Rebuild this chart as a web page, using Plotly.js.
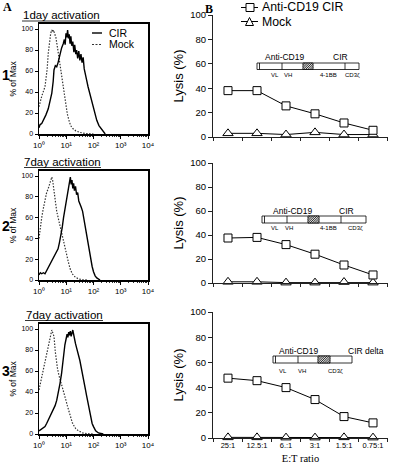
<!DOCTYPE html>
<html><head><meta charset="utf-8">
<script src="https://cdn.plot.ly/plotly-3.0.1.min.js"></script>
<style>html,body{margin:0;padding:0;background:#fff}#chart{width:400px;height:470px}</style>
</head><body><div id="chart"></div>
<script>
// ---------- Data ----------
const ratios = ['25:1', '12.5:1', '6.:1', '3:1', '1.5:1', '0.75:1'];
const cirLysis1 = [38, 38, 25.5, 19, 11.5, 5.5];
const mockLysis1 = [3, 3, 2, 3.8, 2, 2];
const cirLysis2 = [37.5, 38, 32, 24, 15, 6.7];
const mockLysis2 = [1, 1, 0.3, 0.3, 0.8, 0.3];
const cirLysis3 = [47.5, 45.5, 40, 30.5, 17, 12];
const mockLysis3 = [0.5, 0.5, 0.3, 0.3, 0.5, 0.3];

// Histograms: log10 of fluorescence intensity and % of max
const hist1CirLog = [0.0,0.04,0.1,0.16,0.25,0.34,0.4,0.47,0.52,0.55,0.6,0.65,0.7,0.77,0.83,0.89,0.93,0.96,0.99,1.02,1.05,1.08,1.11,1.14,1.17,1.2,1.24,1.28,1.31,1.35,1.38,1.42,1.46,1.5,1.54,1.58,1.62,1.66,1.7,1.75,1.8,1.85,1.9,1.95,2.0,2.06,2.12,2.2,2.3,2.43];
const hist1CirVal = [6,9,10,13,18,24,30,39,50,61,65,64,68,77,82,86,90,85,96,92,99,91,95,86,93,84,88,78,85,76,80,72,79,70,76,68,73,62,58,51,45,40,34,28,23,18,13,8,4,0];
const hist1MockLog = [0,0.1,0.22,0.3,0.34,0.4,0.43,0.47,0.5,0.53,0.57,0.62,0.68,0.74,0.8,0.86,0.92,0.98,1.04,1.1,1.16,1.25,1.35,1.5,1.7,2.0];
const hist1MockVal = [26,36,45,62,77,90,96,99,97,99,96,92,82,72,60,50,38,28,19,13,8,5,3,1.5,0.5,0];

const hist2CirLog = [0,0.05,0.1,0.16,0.22,0.28,0.34,0.4,0.46,0.53,0.6,0.65,0.7,0.75,0.8,0.85,0.9,0.95,1.0,1.04,1.08,1.12,1.15,1.18,1.21,1.24,1.27,1.3,1.34,1.38,1.42,1.46,1.5,1.55,1.6,1.65,1.7,1.75,1.8,1.85,1.9,1.95,2.0,2.06,2.12,2.24];
const hist2CirVal = [5,7,6,7,6,9,12,14,17,21,24,27,30,36,42,50,60,68,74,80,87,92,99,92,96,88,93,86,90,82,84,76,74,70,66,58,50,43,35,27,19,13,8,4,2,0];
const hist2MockLog = [0,0.05,0.1,0.16,0.22,0.28,0.34,0.4,0.44,0.47,0.5,0.55,0.6,0.65,0.7,0.77,0.83,0.89,0.95,1.02,1.08,1.14,1.22,1.32,1.45,1.6,1.8];
const hist2MockVal = [40,52,60,69,77,84,88,93,96,99,96,88,76,66,60,53,46,40,32,24,17,11,6,3,1,0.3,0];

const hist3CirLog = [0,0.05,0.1,0.16,0.22,0.28,0.34,0.4,0.47,0.53,0.59,0.65,0.71,0.77,0.83,0.87,0.91,0.95,0.99,1.03,1.06,1.09,1.12,1.15,1.18,1.21,1.24,1.27,1.3,1.34,1.38,1.42,1.46,1.5,1.55,1.6,1.65,1.7,1.75,1.8,1.85,1.9,1.95,2.0,2.08,2.18,2.36];
const hist3CirVal = [3,4,5,6,7,10,13,16,20,23,27,32,39,48,58,68,78,85,90,95,92,97,94,98,93,96,99,95,90,86,82,79,74,70,64,58,50,43,36,29,22,15,10,7,3,1,0];
const hist3MockLog = [0,0.05,0.1,0.16,0.22,0.28,0.34,0.4,0.44,0.47,0.51,0.55,0.6,0.64,0.68,0.73,0.8,0.86,0.92,0.98,1.04,1.1,1.16,1.22,1.28,1.35,1.45,1.6,1.8,2.0];
const hist3MockVal = [42,48,55,61,69,77,84,90,95,99,96,93,78,67,62,56,50,45,39,33,27,21,15,11,8,5,3,1,0.3,0];

const histTickVals = [1, 10, 100, 1000, 10000];
const histTickText = ['10\u2070', '10\u00B9', '10\u00B2', '10\u00B3', '10\u2074'];
const histYTicks = [0, 20, 40, 60, 80, 100];
const lysisYTicks = [0, 20, 40, 60, 80, 100];
const panelTitles = ['1day activation', '7day activation', '7day activation'];
const panelNumbers = ['1', '2', '3'];

// ---------- Helpers ----------
const W = 400, H = 470;
const PX = p => p / W;
const PY = p => 1 - p / H;
const SANS = 'Arial, "Liberation Sans", sans-serif';
const SERIF = '"Times New Roman", "Liberation Serif", serif';
const toLin = arr => arr.map(v => Math.pow(10, v));

const minorVals = [];
for (let d = 0; d < 4; d++) for (let k = 2; k <= 9; k++) minorVals.push(k * Math.pow(10, d));

const traces = [];
function histTraces(n, cirLog, cirVal, mockLog, mockVal) {
  const xa = n === 1 ? 'x' : 'x' + n, ya = n === 1 ? 'y' : 'y' + n;
  traces.push({x: toLin(mockLog), y: mockVal, xaxis: xa, yaxis: ya, type: 'scatter', mode: 'lines',
    name: 'Mock', showlegend: false, line: {color: '#333', width: 1.2, dash: '1.5px,1.5px'}});
  traces.push({x: toLin(cirLog), y: cirVal, xaxis: xa, yaxis: ya, type: 'scatter', mode: 'lines',
    name: 'CIR', showlegend: false, line: {color: '#000', width: 1.4}});
}
histTraces(1, hist1CirLog, hist1CirVal, hist1MockLog, hist1MockVal);
histTraces(2, hist2CirLog, hist2CirVal, hist2MockLog, hist2MockVal);
histTraces(3, hist3CirLog, hist3CirVal, hist3MockLog, hist3MockVal);

function lysisTraces(n, cir, mock) {
  const xa = 'x' + n, ya = 'y' + n;
  traces.push({x: ratios, y: mock, xaxis: xa, yaxis: ya, type: 'scatter', mode: 'lines+markers',
    name: 'Mock', showlegend: false, cliponaxis: false,
    line: {color: '#000', width: 1},
    marker: {symbol: 'triangle-up', size: 9, color: '#fff', line: {color: '#000', width: 1}}});
  traces.push({x: ratios, y: cir, xaxis: xa, yaxis: ya, type: 'scatter', mode: 'lines+markers',
    name: 'Anti-CD19 CIR', showlegend: false, cliponaxis: false,
    line: {color: '#000', width: 1},
    marker: {symbol: 'square', size: 8, color: '#fff', line: {color: '#000', width: 1}}});
}
lysisTraces(4, cirLysis1, mockLysis1);
lysisTraces(5, cirLysis2, mockLysis2);
lysisTraces(6, cirLysis3, mockLysis3);

// ---------- Layout ----------
const layout = {
  width: W, height: H, margin: {l: 0, r: 0, t: 0, b: 0},
  paper_bgcolor: '#fff', plot_bgcolor: '#fff',
  showlegend: false, hovermode: false,
  font: {family: SANS, color: '#000'},
  shapes: [], annotations: []
};

const histY = [[134, 23.75], [280, 170.8], [434, 323.75]];
histY.forEach((yy, i) => {
  const n = i + 1, sfx = n === 1 ? '' : String(n);
  layout['xaxis' + sfx] = {
    domain: [PX(39), PX(148)], anchor: 'y' + sfx, type: 'log', range: [0, 4],
    showline: true, mirror: true, linecolor: '#000', linewidth: 1.5,
    showgrid: false, zeroline: false,
    tickmode: 'array', tickvals: histTickVals, ticktext: histTickText, tickangle: 0,
    ticks: 'outside', ticklen: 3, tickwidth: 1, tickcolor: '#000',
    tickfont: {size: 8, family: SANS},
    minor: {tickmode: 'array', tickvals: minorVals, ticks: 'outside', ticklen: 1.8, tickwidth: 0.8, tickcolor: '#000'}
  };
  layout['yaxis' + sfx] = {
    domain: [PY(yy[0]), PY(yy[1])], anchor: 'x' + sfx, range: [0, 105],
    showline: true, mirror: true, linecolor: '#000', linewidth: 1.5,
    showgrid: false, zeroline: false,
    tickmode: 'array', tickvals: histYTicks,
    ticks: 'outside', ticklen: 3, tickwidth: 1, tickcolor: '#000',
    tickfont: {size: 7, family: SANS},
    title: {text: '% of Max', font: {size: 8.5, family: SANS}, standoff: 3}
  };
});

const lysY = [[137, 15], [283, 163], [438, 312]];
lysY.forEach((yy, i) => {
  const n = i + 4;
  const ax = {
    domain: [PX(213), PX(388)], anchor: 'y' + n, type: 'category',
    categoryorder: 'array', categoryarray: ratios, range: [-0.517, 5.517],
    showline: true, linecolor: '#222', linewidth: 1, showgrid: false, zeroline: false,
    tickson: 'boundaries', ticks: 'outside', ticklen: 3, tickcolor: '#222',
    showticklabels: n === 6, tickangle: 0, tickfont: {size: 7.5, family: SANS}
  };
  if (n === 6) ax.title = {text: 'E:T ratio', font: {size: 10.5, family: SERIF}, standoff: 5};
  layout['xaxis' + n] = ax;
  layout['yaxis' + n] = {
    domain: [PY(yy[0]), PY(yy[1])], anchor: 'x' + n, range: [0, 100],
    showline: true, linecolor: '#222', linewidth: 1, showgrid: false, zeroline: false,
    tickmode: 'array', tickvals: lysisYTicks,
    ticks: 'outside', ticklen: 4, tickcolor: '#222',
    tickfont: {size: 9.5, family: SANS},
    title: {text: 'Lysis (%)', font: {size: 13, family: SANS}, standoff: 3}
  };
});

const S = layout.shapes, A = layout.annotations;
function ann(text, x, y, size, opts) {
  A.push(Object.assign({text: text, x: PX(x), y: PY(y), xref: 'paper', yref: 'paper',
    showarrow: false, xanchor: 'center', yanchor: 'middle', borderpad: 0,
    font: {size: size, family: SANS, color: '#000'}}, opts || {}));
}
function pline(x0, y0, x1, y1, width, dash, color) {
  S.push({type: 'line', xref: 'paper', yref: 'paper', x0: PX(x0), y0: PY(y0), x1: PX(x1), y1: PY(y1),
    line: {color: color || '#000', width: width, dash: dash || 'solid'}});
}
function prect(x0, y0, x1, y1, fill, width) {
  S.push({type: 'rect', xref: 'paper', yref: 'paper', x0: PX(x0), y0: PY(y0), x1: PX(x1), y1: PY(y1),
    fillcolor: fill, line: {color: '#000', width: width}});
}

// Panel letters and numbers
ann('<b>A</b>', 7, 7, 12, {font: {size: 12, family: SERIF, color: '#000'}});
ann('<b>B</b>', 209, 9, 12, {font: {size: 12, family: SERIF, color: '#000'}});
const numY = [75, 226, 371];
panelNumbers.forEach((t, i) => ann('<b>' + t + '</b>', 5.5, numY[i], 14));

// Panel titles with underline
const titleInfo = [[22, 100, 15, 21], [24, 101, 161.5, 167.5], [25, 103, 314.5, 320.5]];
panelTitles.forEach((t, i) => {
  const [x0, x1, ty, uy] = titleInfo[i];
  ann(t, (x0 + x1) / 2, ty, 11.5);
  pline(x0, uy, x1, uy, 1, 'solid', '#333');
});

// Histogram legend (panel 1)
pline(92, 33, 102, 33, 1.4);
ann('CIR', 108, 33, 10.5, {xanchor: 'left'});
pline(92, 44.5, 102, 44.5, 1.2, '2px,1.5px', '#333');
ann('Mock', 108, 44.5, 10.5, {xanchor: 'left'});

// Lysis legend
pline(241, 7.5, 258, 7.5, 1);
prect(246, 3.5, 254, 11.5, '#fff', 1);
ann('Anti-CD19 CIR', 261, 7, 12.3, {xanchor: 'left'});
pline(241, 21.5, 258, 21.5, 1);
S.push({type: 'path', xref: 'paper', yref: 'paper',
  path: `M ${PX(245.5)},${PY(25.5)} L ${PX(249.5)},${PY(17.5)} L ${PX(253.5)},${PY(25.5)} Z`,
  fillcolor: '#fff', line: {color: '#000', width: 1}});
ann('Mock', 261, 21.5, 12.3, {xanchor: 'left'});

// Construct diagrams
function diagram(x0, x1, y0, y1, leaderX, dividers, hx0, hx1, topLabels, bottomLabels, topY, botY) {
  prect(x0, y0, x1, y1, '#fff', 0.8);
  pline(leaderX, y0, leaderX, y1, 0.8);
  dividers.forEach(d => pline(d, y0, d, y1, 0.8));
  prect(hx0, y0, hx1, y1, '#fff', 0.8);
  const h = y1 - y0;
  for (let s = hx0 - h; s < hx1; s += 1.8) {
    let xa = s, ya = y1, xb = s + h, yb = y0;
    if (xa < hx0) { ya = y1 - (hx0 - xa); xa = hx0; }
    if (xb > hx1) { yb = y0 + (xb - hx1); xb = hx1; }
    if (xb > xa) pline(xa, ya, xb, yb, 0.8, 'solid', '#000');
  }
  topLabels.forEach(l => ann(l[0], l[1], topY, 8.5));
  bottomLabels.forEach(l => ann(l[0], l[1], botY, 6));
}
diagram(257, 359, 63, 69.5, 259.5, [282, 345], 303, 313,
  [['Anti-CD19', 284], ['CIR', 340]], [['VL', 275], ['VH', 288], ['4-1BB', 328], ['CD3ζ', 352]], 57, 74.5);
diagram(262, 366, 216, 223, 264.5, [287, 341], 308, 319,
  [['Anti-CD19', 292], ['CIR', 346]], [['VL', 275], ['VH', 289], ['4-1BB', 328], ['CD3ζ', 355]], 210.5, 227.5);
diagram(273, 352, 356, 363, 275.5, [298], 318, 330,
  [['Anti-CD19', 298], ['CIR delta', 366]], [['VL', 283], ['VH', 302], ['CD3ζ', 335]], 350.5, 371);

Plotly.newPlot('chart', traces, layout, {staticPlot: true, displayModeBar: false});
</script>
</body></html>
